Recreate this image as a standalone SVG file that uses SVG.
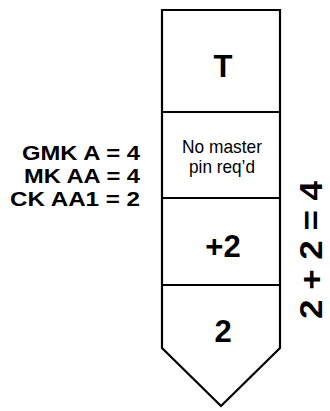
<svg xmlns="http://www.w3.org/2000/svg" width="330" height="411" viewBox="0 0 330 411">
<style>
.o{fill:none;stroke:#000;stroke-width:2.2;stroke-linejoin:miter}
.b{font-family:"Liberation Sans",Arial,sans-serif;font-weight:bold;fill:#000}
.big{font-size:31px;text-anchor:middle}
.lab{font-size:21px;text-anchor:end}
.n{font-family:"Liberation Sans",Arial,sans-serif;fill:#000;font-size:19px;text-anchor:middle}
</style>
<rect width="330" height="411" fill="#fff"/>
<g id="outline">
<path class="o" d="M162,10 H280 V348 L221,406 L162,348 Z"/>
</g>
<g id="connectors">
<line class="o" x1="162" y1="112" x2="280" y2="112"/>
<line class="o" x1="162" y1="198" x2="280" y2="198"/>
<line class="o" x1="162" y1="285" x2="280" y2="285"/>
</g>
<g id="node-T"><text class="b big" x="223" y="77">T</text></g>
<g id="node-nomaster"><text class="n" x="222" y="153" textLength="80" lengthAdjust="spacingAndGlyphs">No master</text><text class="n" x="222" y="173" textLength="66" lengthAdjust="spacingAndGlyphs">pin req’d</text></g>
<g id="node-plus2"><text class="b big" x="223" y="257">+2</text></g>
<g id="node-2"><text class="b big" x="223" y="342">2</text></g>
<g id="left-labels">
<text class="b lab" x="140" y="160" textLength="118" lengthAdjust="spacingAndGlyphs">GMK A = 4</text>
<text class="b lab" x="140" y="183" textLength="116" lengthAdjust="spacingAndGlyphs">MK AA = 4</text>
<text class="b lab" x="140" y="206" textLength="130" lengthAdjust="spacingAndGlyphs">CK AA1 = 2</text>
</g>
<g id="right-label"><text class="b big" x="0" y="0" textLength="138" lengthAdjust="spacingAndGlyphs" transform="translate(322,250) rotate(-90)">2 + 2 = 4</text></g>
</svg>
